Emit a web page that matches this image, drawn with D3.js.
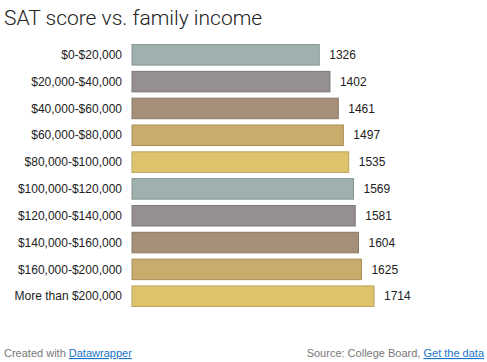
<!DOCTYPE html>
<html>
<head>
<meta charset="utf-8">
<script src="https://cdn.jsdelivr.net/npm/d3@7"></script>
<style>
  body { margin: 0; background: #fff; }
  svg { display: block; font-family: "Liberation Sans", Arial, sans-serif; }
  .lbl { font-size: 12px; fill: #222; }
  .foot { font-size: 11px; fill: #777; }
  .link { fill: #1a73c8; text-decoration: underline; }
</style>
</head>
<body>
<svg width="487" height="362"></svg>
<script>
const categories = ["$0-$20,000", "$20,000-$40,000", "$40,000-$60,000", "$60,000-$80,000",
  "$80,000-$100,000", "$100,000-$120,000", "$120,000-$140,000", "$140,000-$160,000",
  "$160,000-$200,000", "More than $200,000"];
const scores = [1326, 1402, 1461, 1497, 1535, 1569, 1581, 1604, 1625, 1714];
const palette = ["#9fb1ae", "#958f8f", "#a58f78", "#c9ab6c", "#dfc36c"];

const svg = d3.select("svg");

svg.append("text")
  .attr("x", 4).attr("y", 25)
  .style("font-family", "Roboto, 'Liberation Sans', sans-serif")
  .style("font-weight", 300)
  .style("font-size", "21px")
  .attr("fill", "#222")
  .text("SAT score vs. family income");

const x = d3.scaleLinear().domain([0, 1714]).range([132, 374]);
const y = d3.scaleBand().domain(categories).range([44, 307]).paddingInner(0.235).paddingOuter(0.02);

const color = d3.scaleOrdinal().domain(categories).range(palette);

const rows = svg.append("g").selectAll("g")
  .data(categories.map((c, i) => ({ cat: c, val: scores[i] })))
  .enter().append("g");

rows.append("rect")
  .attr("x", x(0))
  .attr("y", d => y(d.cat))
  .attr("width", d => x(d.val) - x(0))
  .attr("height", y.bandwidth())
  .attr("fill", d => color(d.cat))
  .attr("stroke", d => d3.color(color(d.cat)).darker(0.5))
  .attr("stroke-width", 1);

rows.append("text")
  .attr("class", "lbl")
  .attr("x", 122)
  .attr("y", d => y(d.cat) + y.bandwidth() / 2)
  .attr("dy", "0.35em")
  .attr("text-anchor", "end")
  .text(d => d.cat);

rows.append("text")
  .attr("class", "lbl")
  .attr("x", d => x(d.val) + 10)
  .attr("y", d => y(d.cat) + y.bandwidth() / 2)
  .attr("dy", "0.35em")
  .text(d => d.val);

const left = svg.append("text").attr("class", "foot").attr("x", 4).attr("y", 357);
left.append("tspan").text("Created with ");
left.append("tspan").attr("class", "link").text("Datawrapper");

const right = svg.append("text").attr("class", "foot").attr("x", 484).attr("y", 357).attr("text-anchor", "end");
right.append("tspan").text("Source: College Board, ");
right.append("tspan").attr("class", "link").text("Get the data");
</script>
</body>
</html>
